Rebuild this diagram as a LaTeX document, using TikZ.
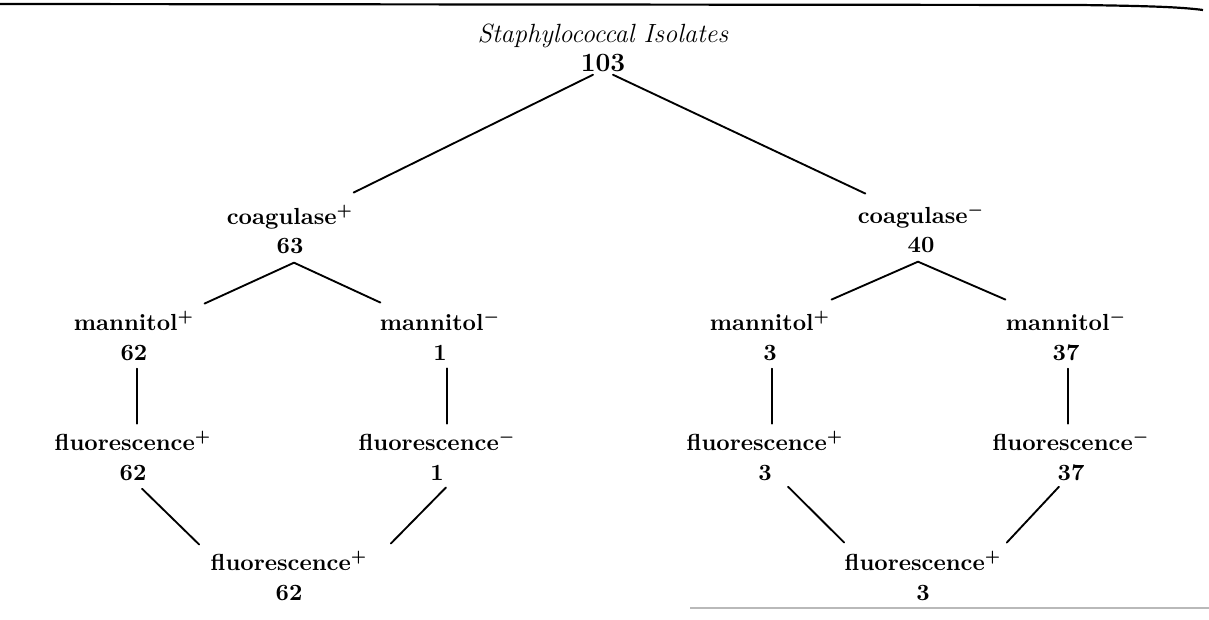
\documentclass[tikz,border=0pt]{standalone}
\usetikzlibrary{calc}
\begin{document}
\tikzset{
  lbl/.style={font=\fontsize{10.6}{13.6}\selectfont\bfseries\boldmath, align=center, inner sep=0pt, anchor=base},
  edge/.style={line width=0.85pt, line cap=round},
}
\begin{tikzpicture}[x=0.016cm,y=-0.016cm]
\useasboundingbox (0,0) rectangle (1209,620);
% scan rules
\draw[line width=1pt] (0,4) -- (1080,5) .. controls (1150,6) and (1180,7) .. (1203,10);
\draw[gray!55, line width=0.6pt] (690,608) -- (1209,608);

% nodes (anchored at the baseline of the number line)
\node[lbl, font=\fontsize{12}{13.6}\selectfont] (root) at (603,72) {\textit{Staphylococcal Isolates}\\\textbf{103}};
\node[lbl] (cp)  at (290,254) {coagulase$^+$\\63};
\node[lbl] (cm)  at (921,253) {coagulase$^-$\\40};
\node[lbl] (mp1) at (134,360) {mannitol$^+$\\62};
\node[lbl] (mm1) at (440,360) {mannitol$^-$\\1};
\node[lbl] (mp2) at (770,360) {mannitol$^+$\\3};
\node[lbl] (mm2) at (1066,360) {mannitol$^-$\\37};
\node[lbl] (fp1) at (133,480) {fluorescence$^+$\\62};
\node[lbl] (fm1) at (437,480) {fluorescence$^-$\\1};
\node[lbl] (fp2) at (765,480) {fluorescence$^+$\\3};
\node[lbl] (fm2) at (1071,480) {fluorescence$^-$\\37};
\node[lbl] (bl)  at (289,600) {fluorescence$^+$\\62};
\node[lbl] (br)  at (923,600) {fluorescence$^+$\\3};

% connectors
\draw[edge] ($(root.south)+(-10,2)$) -- ($(cp.north east)+(0,-12)$);
\draw[edge] ($(root.south)+(10,2)$) -- ($(cm.north west)+(8,-10)$);
\draw[edge] ($(cp.south)+(4,8)$) -- ($(mp1.north east)+(10,-7)$);
\draw[edge] ($(cp.south)+(4,8)$) -- ($(mm1.north west)+(1,-8)$);
\draw[edge] ($(cm.south)+(-3,8)$) -- ($(mp2.north east)+(1,-11)$);
\draw[edge] ($(cm.south)+(-3,8)$) -- ($(mm2.north west)+(0,-11)$);
\draw[edge] ($(mp1.south)+(3,8)$) -- ($(mp1.south |- fp1.north)+(3,-7)$);
\draw[edge] ($(mm1.south)+(7,8)$) -- ($(mm1.south |- fm1.north)+(7,-7)$);
\draw[edge] ($(mp2.south)+(2,8)$) -- ($(mp2.south |- fp2.north)+(2,-7)$);
\draw[edge] ($(mm2.south)+(2,8)$) -- ($(mm2.south |- fm2.north)+(2,-7)$);
\draw[edge] ($(fp1.south)+(9,8)$) -- ($(bl.north west)+(-11,-6)$);
\draw[edge] ($(fm1.south)+(9,7)$) -- ($(bl.north east)+(23,-7)$);
\draw[edge] ($(fp2.south)+(23,6)$) -- ($(br.north west)+(0,-8)$);
\draw[edge] ($(fm2.south)+(-12,6)$) -- ($(br.north east)+(5,-8)$);
\end{tikzpicture}
\end{document}
